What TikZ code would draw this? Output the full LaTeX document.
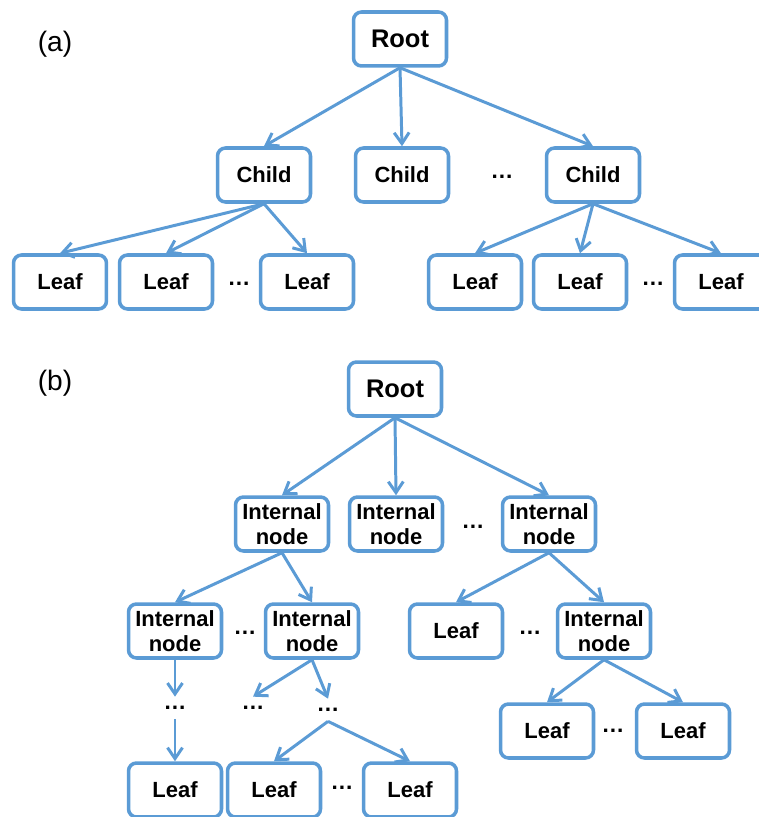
\documentclass[tikz,border=0pt]{standalone}
\usepackage{fontspec}
\setmainfont{Liberation Sans}
\usepackage{xcolor}
\usetikzlibrary{arrows.meta}

\definecolor{treeblue}{RGB}{91,155,213}
\tikzset{
  box/.style={draw=treeblue,line width=2pt,rounded corners=0.16cm,minimum width=1.86cm,
    minimum height=1.08cm,inner sep=0pt,align=center,font=\bfseries\fontsize{12.5}{14.5}\selectfont},
  rootbox/.style={box,font=\bfseries\fontsize{14.5}{16}\selectfont},
  more/.style={inner sep=0pt,minimum height=0.44cm,font=\bfseries\fontsize{13}{14}\selectfont},
  tag/.style={inner sep=0pt,font=\fontsize{16}{19}\selectfont},
  link/.style={draw=treeblue,line width=1.7pt,-{Straight Barb[length=2.2mm,width=3mm]}}
}

\begin{document}
\begin{tikzpicture}[x=0.02cm,y=-0.02cm]
  \useasboundingbox (0,0) rectangle (758,817);

  \node(tagA) [tag] at (55,44) {(a)};
  \node(rootA) [rootbox] at (400,39) {Root};
  \node(childA1) [box] at (264,175) {Child};
  \node(childA2) [box] at (402,175) {Child};
  \node(childA3) [box] at (593,175) {Child};
  \node(moreA1) [more] at (502,177) {…};
  \node(leafA1) [box] at (60,282) {Leaf};
  \node(leafA2) [box] at (166,282) {Leaf};
  \node(leafA3) [box] at (307,282) {Leaf};
  \node(leafA4) [box] at (475,282) {Leaf};
  \node(leafA5) [box] at (580,282) {Leaf};
  \node(leafA6) [box] at (721,282) {Leaf};
  \node(moreA2) [more] at (239,284) {…};
  \node(moreA3) [more] at (653,284) {…};
  \draw[link] (rootA.south) -- (childA1.north);
  \draw[link] (rootA.south) -- (childA2.north);
  \draw[link] (rootA.south) -- (childA3.north);
  \draw[link] (childA1.south) -- (leafA1.north);
  \draw[link] (childA1.south) -- (leafA2.north);
  \draw[link] (childA1.south) -- (leafA3.north);
  \draw[link] (childA3.south) -- (leafA4.north);
  \draw[link] (childA3.south) -- (leafA5.north);
  \draw[link] (childA3.south) -- (leafA6.north);

  \node(tagB) [tag] at (55,383) {(b)};
  \node(rootB) [rootbox] at (395,389) {Root};
  \node(innerB1) [box] at (282,524) {Internal\\node};
  \node(innerB2) [box] at (396,524) {Internal\\node};
  \node(innerB3) [box] at (549,524) {Internal\\node};
  \node(moreB1) [more] at (473,527) {…};
  \node(innerB4) [box] at (175,631) {Internal\\node};
  \node(innerB5) [box] at (312,631) {Internal\\node};
  \node(moreB2) [more] at (245,633) {…};
  \node(leafB1) [box] at (456,631) {Leaf};
  \node(innerB6) [box] at (604,631) {Internal\\node};
  \node(moreB3) [more] at (530,633) {…};
  \node(moreB4) [more] at (175,708) {…};
  \node(moreB5) [more] at (253,708) {…};
  \node(moreB6) [more] at (328,710) {…};
  \node(leafB2) [box] at (175,790) {Leaf};
  \node(leafB3) [box] at (274,790) {Leaf};
  \node(leafB4) [box] at (410,790) {Leaf};
  \node(moreB7) [more] at (342,788) {…};
  \node(leafB5) [box] at (547,731) {Leaf};
  \node(leafB6) [box] at (683,731) {Leaf};
  \node(moreB8) [more] at (613,731) {…};
  \draw[link] (rootB.south) -- (innerB1.north);
  \draw[link] (rootB.south) -- (innerB2.north);
  \draw[link] (rootB.south) -- (innerB3.north);
  \draw[link] (innerB1.south) -- (innerB4.north);
  \draw[link] (innerB1.south) -- (innerB5.north);
  \draw[link] (innerB3.south) -- (leafB1.north);
  \draw[link] (innerB3.south) -- (innerB6.north);
  \draw[link] (innerB4.south) -- (moreB4.north);
  \draw[link] (moreB4.south) -- (leafB2.north);
  \draw[link] (innerB5.south) -- (moreB5.north);
  \draw[link] (innerB5.south) -- (moreB6.north);
  \draw[link] (moreB6.south) -- (leafB3.north);
  \draw[link] (moreB6.south) -- (leafB4.north);
  \draw[link] (innerB6.south) -- (leafB5.north);
  \draw[link] (innerB6.south) -- (leafB6.north);
\end{tikzpicture}
\end{document}
